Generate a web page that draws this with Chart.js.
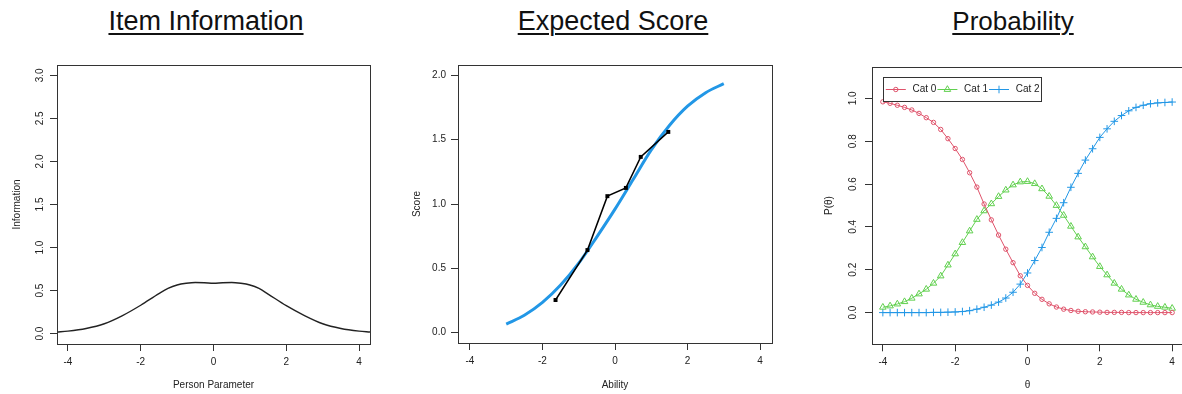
<!DOCTYPE html>
<html><head><meta charset="utf-8">
<script src="https://cdn.jsdelivr.net/npm/chart.js@4.4.1/dist/chart.umd.min.js"></script>
<style>
html,body{margin:0;padding:0;background:#fff;width:1182px;height:394px;overflow:hidden;}
.panel{position:absolute;top:50px;height:344px;}
.ttl{position:absolute;top:6px;transform:translateX(-50%);font-family:'Liberation Sans',Arial,sans-serif;font-size:27px;text-decoration:underline;text-decoration-thickness:2px;text-underline-offset:3px;white-space:nowrap;color:#111;line-height:1.15;}
</style></head><body>
<div class="ttl" style="left:206px">Item Information</div>
<div class="ttl" style="left:613px">Expected Score</div>
<div class="ttl" style="left:1013px;font-size:26px;top:7px">Probability</div>
<canvas id="c1" class="panel" style="left:0px" width="394" height="344"></canvas>
<canvas id="c2" class="panel" style="left:394px" width="394" height="344"></canvas>
<canvas id="c3" class="panel" style="left:788px" width="400" height="344"></canvas>
<script>
// ---------- data ----------
const xTicks = [-4, -2, 0, 2, 4];
const infoYTicks = [0, 0.5, 1, 1.5, 2, 2.5, 3];
const scoreYTicks = [0, 0.5, 1, 1.5, 2];
const probYTicks = [0, 0.2, 0.4, 0.6, 0.8, 1];

const infoTheta = [-4.3, -4.0, -3.5, -3.0, -2.5, -2.0, -1.5, -1.25, -1.0, -0.75, -0.5, -0.25, 0, 0.25, 0.5, 0.75, 1.0, 1.25, 1.5, 2.0, 2.5, 3.0, 3.5, 4.0, 4.3];
const infoValue = [0.02, 0.03, 0.06, 0.115, 0.21, 0.33, 0.465, 0.525, 0.565, 0.585, 0.595, 0.592, 0.585, 0.592, 0.595, 0.585, 0.565, 0.525, 0.46, 0.325, 0.21, 0.115, 0.06, 0.03, 0.02];

const scoreTheta = [-3.0, -2.5, -2.0, -1.5, -1.0, -0.5, 0.0, 0.5, 1.0, 1.5, 2.0, 2.5, 3.0];
const scoreValue = [0.067, 0.135, 0.235, 0.37, 0.54, 0.745, 0.96, 1.19, 1.42, 1.61, 1.76, 1.865, 1.935];
const obsAbility = [-1.64, -0.76, -0.21, 0.30, 0.71, 1.47];
const obsScore = [0.254, 0.642, 1.061, 1.125, 1.366, 1.56];

const catLabels = ['Cat 0', 'Cat 1', 'Cat 2'];
const probTheta = [-4.0, -3.8, -3.6, -3.4, -3.2, -3.0, -2.8, -2.6, -2.4, -2.2, -2.0, -1.8, -1.6, -1.4, -1.2, -1.0, -0.8, -0.6, -0.4, -0.2, 0.0, 0.2, 0.4, 0.6, 0.8, 1.0, 1.2, 1.4, 1.6, 1.8, 2.0, 2.2, 2.4, 2.6, 2.8, 3.0, 3.2, 3.4, 3.6, 3.8, 4.0];
const probCat0 = [0.984, 0.977, 0.968, 0.958, 0.946, 0.930, 0.910, 0.888, 0.855, 0.812, 0.766, 0.715, 0.653, 0.586, 0.507, 0.433, 0.362, 0.296, 0.233, 0.172, 0.127, 0.090, 0.062, 0.041, 0.026, 0.016, 0.010, 0.006, 0.004, 0.003, 0.002, 0.001, 0.001, 0.001, 0.000, 0.000, 0.000, 0.000, 0.000, 0.000, 0.000];
const probCat1 = [0.025, 0.031, 0.040, 0.051, 0.067, 0.087, 0.109, 0.137, 0.171, 0.222, 0.274, 0.327, 0.381, 0.435, 0.475, 0.508, 0.542, 0.572, 0.596, 0.610, 0.612, 0.602, 0.578, 0.543, 0.500, 0.454, 0.403, 0.353, 0.307, 0.260, 0.215, 0.176, 0.137, 0.109, 0.082, 0.062, 0.048, 0.036, 0.029, 0.025, 0.020];
const probCat2 = [0.000, 0.000, 0.000, 0.000, 0.000, 0.000, 0.000, 0.001, 0.001, 0.002, 0.003, 0.005, 0.009, 0.016, 0.025, 0.035, 0.049, 0.068, 0.095, 0.133, 0.185, 0.243, 0.304, 0.375, 0.440, 0.513, 0.585, 0.650, 0.712, 0.765, 0.818, 0.858, 0.893, 0.920, 0.942, 0.958, 0.968, 0.975, 0.979, 0.981, 0.983];
const legendAnchor = {x: -4, y: 1.1};

// ---------- styling ----------
const AX = '#333', TXT = '#222';
const FONT = "'Liberation Sans', Arial, sans-serif";
Chart.defaults.font.family = FONT;
Chart.defaults.font.size = 10;
Chart.defaults.color = TXT;

function pts(xs, ys) { return xs.map((x, i) => ({x: x, y: ys[i]})); }

const boxPlugin = {
  id: 'rbox',
  afterDraw(chart) {
    const a = chart.chartArea, c = chart.ctx;
    const l = Math.round(a.left), t = Math.round(a.top), r = Math.round(a.right), b = Math.round(a.bottom);
    c.save(); c.strokeStyle = AX; c.lineWidth = 1;
    c.strokeRect(l + 0.5, t + 0.5, r - l, b - t);
    c.restore();
  }
};

function axisX(min, max, ticks, h, title, pb) {
  return {
    type: 'linear', position: 'bottom', min: min, max: max,
    afterBuildTicks: s => { s.ticks = ticks.map(v => ({value: v})); },
    afterFit: s => { s.height = h; },
    grid: {display: true, drawOnChartArea: false, drawTicks: true, tickLength: 7, color: AX, lineWidth: 1},
    border: {display: false},
    ticks: {padding: 5, autoSkip: false, maxRotation: 0, minRotation: 0, color: TXT, font: {size: 10}, callback: v => String(v)},
    title: {display: true, text: title, color: TXT, font: {size: 10}, padding: {top: 0, bottom: pb}}
  };
}
function axisY(min, max, ticks, w, title, rot, pad, tpad) {
  return {
    type: 'linear', position: 'left', min: min, max: max,
    afterBuildTicks: s => { s.ticks = ticks.map(v => ({value: v})); },
    afterFit: s => { s.width = w; },
    grid: {display: true, drawOnChartArea: false, drawTicks: true, tickLength: 7, color: AX, lineWidth: 1},
    border: {display: false},
    ticks: {padding: pad, autoSkip: false, minRotation: rot, maxRotation: rot, crossAlign: rot ? 'center' : 'near', color: TXT, font: {size: 10}, callback: v => v.toFixed(1)},
    title: {display: true, text: title, color: TXT, font: {size: 10}, padding: {top: tpad, bottom: 0}}
  };
}
function baseOpts(pad, sx, sy) {
  return {
    responsive: false, animation: false, devicePixelRatio: 1,
    layout: {padding: pad},
    plugins: {legend: {display: false}, tooltip: {enabled: false}},
    scales: {x: sx, y: sy}
  };
}

// ---------- panel 1 ----------
new Chart(document.getElementById('c1'), {
  type: 'scatter',
  data: {datasets: [{label: 'Information', data: pts(infoTheta, infoValue), showLine: true, borderColor: '#222', borderWidth: 1.4, pointRadius: 0, cubicInterpolationMode: 'monotone'}]},
  options: baseOpts({left: 0, top: 15, right: 24, bottom: 0},
    axisX(-4.3, 4.3, xTicks, 50, 'Person Parameter', 2.3),
    axisY(-0.12, 3.12, infoYTicks, 57, 'Information', 90, 2.7, 11)),
  plugins: [boxPlugin]
});

// ---------- panel 2 ----------
new Chart(document.getElementById('c2'), {
  type: 'scatter',
  data: {datasets: [
    {label: 'Observed', data: pts(obsAbility, obsScore), showLine: true, borderColor: '#000', borderWidth: 1.5, pointStyle: 'rect', pointRadius: 2.8, pointBackgroundColor: '#000', pointBorderColor: '#000', pointBorderWidth: 0},
    {label: 'Expected', data: pts(scoreTheta, scoreValue), showLine: true, borderColor: '#2297E6', borderWidth: 3, pointRadius: 0, cubicInterpolationMode: 'monotone'}
  ]},
  options: baseOpts({left: 0, top: 15, right: 16, bottom: 0},
    axisX(-4.33, 4.33, xTicks, 51, 'Ability', 2.3),
    axisY(-0.08, 2.08, scoreYTicks, 64, 'Score', 0, 5, 17.5)),
  plugins: [boxPlugin]
});

// ---------- panel 3 ----------
function drawMarker(c, style, x, y, r, color) {
  c.save(); c.strokeStyle = color; c.lineWidth = 1; c.beginPath();
  if (style === 'circle') { c.arc(x, y, r, 0, Math.PI * 2); }
  else if (style === 'triangle') {
    for (let k = 0; k < 3; k++) { const a = k * 2 * Math.PI / 3; const px = x + Math.sin(a) * r, py = y - Math.cos(a) * r; if (k === 0) c.moveTo(px, py); else c.lineTo(px, py); }
    c.closePath();
  } else { c.moveTo(x - r, y); c.lineTo(x + r, y); c.moveTo(x, y - r); c.lineTo(x, y + r); }
  c.stroke(); c.restore();
}
const rLegend = {
  id: 'rlegend',
  afterDraw(chart) {
    const c = chart.ctx, xs = chart.scales.x, ys = chart.scales.y;
    const left = Math.round(xs.getPixelForValue(legendAnchor.x)) + 0.5;
    const top = Math.round(ys.getPixelForValue(legendAnchor.y)) + 0.5;
    c.save();
    c.font = '10px ' + FONT;
    const cy = top + 12;
    let x = left + 2.3;
    const items = chart.data.datasets.map(ds => {
      const it = {ds: ds, x: x};
      x = x + 26.7 + c.measureText(ds.label).width + 1;
      return it;
    });
    const right = x + 1;
    c.fillStyle = '#fff'; c.fillRect(left, top, right - left, 24);
    c.strokeStyle = AX; c.lineWidth = 1; c.strokeRect(left, top, Math.round(right - left), 24);
    items.forEach(it => {
      const ds = it.ds;
      c.strokeStyle = ds.borderColor; c.lineWidth = 1;
      c.beginPath(); c.moveTo(it.x, cy); c.lineTo(it.x + 20, cy); c.stroke();
      drawMarker(c, ds.pointStyle, it.x + 10, cy, ds.pointRadius, ds.borderColor);
      c.fillStyle = TXT; c.textBaseline = 'middle'; c.textAlign = 'left';
      c.fillText(ds.label, it.x + 26.7, cy);
    });
    c.restore();
  }
};
const catColors = ['#DF536B', '#61D04F', '#2297E6'];
const catStyles = ['circle', 'triangle', 'cross'];
const catRadius = [2.2, 3.8, 3.8];
const catValues = [probCat0, probCat1, probCat2];
new Chart(document.getElementById('c3'), {
  type: 'scatter',
  data: {datasets: catLabels.map((lab, i) => ({
    label: lab, data: pts(probTheta, catValues[i]), showLine: true,
    borderColor: catColors[i], borderWidth: 1, pointStyle: catStyles[i], pointRadius: catRadius[i],
    pointBorderColor: catColors[i], pointBackgroundColor: 'rgba(0,0,0,0)', pointBorderWidth: 1
  }))},
  options: baseOpts({left: 0, top: 16.7, right: 3.6, bottom: 0},
    axisX(-4.3, 4.3, xTicks, 49.7, 'θ', 2.3),
    axisY(-0.148, 1.148, probYTicks, 84, 'P(θ)', 90, 4.7, 35)),
  plugins: [boxPlugin, rLegend]
});
</script>
</body></html>
